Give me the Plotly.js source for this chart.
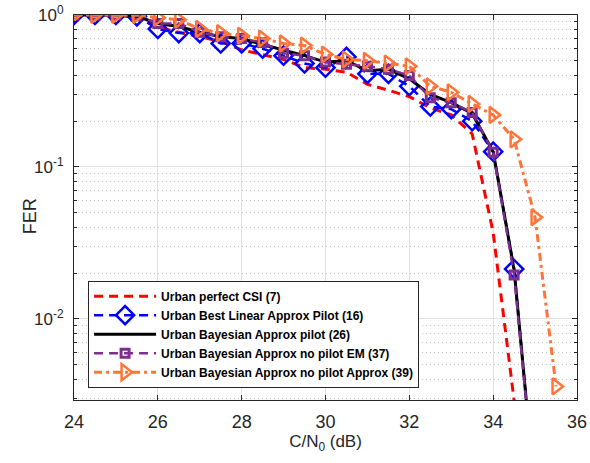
<!DOCTYPE html>
<html>
<head>
<meta charset="utf-8">
<script src="https://cdn.plot.ly/plotly-3.0.1.min.js"></script>
<style>html,body{margin:0;padding:0;background:#fff;}#chart{width:590px;height:463px;}</style>
</head>
<body>
<div id="chart"></div>
<script>
// C/N0 values (dB)
const snr = [24,24.5,25,25.5,26,26.5,27,27.5,28,28.5,29,29.5,30,30.5,31,31.5,32,32.5,33,33.5,34,34.5,35,35.5];

const ferPerfectCSI = [1.0,1.0,1.0,0.96,0.83,0.77,0.72,0.67,0.59,0.55,0.51,0.45,0.44,0.42,0.35,0.32,0.29,0.245,0.22,0.165,0.037,0.0029];
const ferBestLinear = [1.0,1.0,1.0,0.98,0.81,0.76,0.76,0.65,0.65,0.60,0.54,0.48,0.45,0.53,0.41,0.41,0.34,0.25,0.24,0.20,0.126,0.0213,0.0007];
const ferBayesPilot = [1.0,1.0,1.0,0.98,0.88,0.84,0.77,0.72,0.70,0.64,0.59,0.54,0.49,0.50,0.43,0.44,0.38,0.30,0.265,0.225,0.126,0.021,0.0007];
const ferNoPilotEM = [1.0,1.0,1.0,0.99,0.88,0.88,0.77,0.72,0.70,0.66,0.56,0.54,0.49,0.475,0.46,0.44,0.40,0.285,0.265,0.228,0.125,0.0195,0.0007];
const ferNoPilotApprox = [1.0,1.0,1.0,1.0,0.96,0.93,0.81,0.76,0.73,0.70,0.65,0.63,0.55,0.51,0.50,0.48,0.46,0.34,0.31,0.26,0.22,0.152,0.0467,0.0036];

const names = [
  'Urban perfect CSI (7)',
  'Urban Best Linear Approx Pilot (16)',
  'Urban Bayesian Approx pilot (26)',
  'Urban Bayesian Approx no pilot EM (37)',
  'Urban Bayesian Approx no pilot Approx (39)'
];
const yTickVals = [1, 0.1, 0.01];
const yTickText = ['10<sup>0</sup>', '10<sup>-1</sup>', '10<sup>-2</sup>'];
const yTitle = 'FER';
const xTitle = 'C/N<sub>0</sub> (dB)';

const traces = [
  {x: snr.slice(0, ferPerfectCSI.length), y: ferPerfectCSI, name: names[0], mode: 'lines',
   line: {color: '#ff0000', width: 3, dash: '9px,6px'}},
  {x: snr.slice(0, ferBestLinear.length), y: ferBestLinear, name: names[1], mode: 'lines+markers',
   line: {color: '#0000ff', width: 2.5, dash: '9px,6px'},
   marker: {symbol: 'diamond-open', size: 14, color: '#0000ff', line: {width: 2.5, color: '#0000ff'}}},
  {x: snr.slice(0, ferBayesPilot.length), y: ferBayesPilot, name: names[2], mode: 'lines',
   line: {color: '#000000', width: 3}},
  {x: snr.slice(0, ferNoPilotEM.length), y: ferNoPilotEM, name: names[3], mode: 'lines+markers',
   line: {color: '#7e2f8e', width: 2.5, dash: '9px,6px'},
   marker: {symbol: 'square-open', size: 8, color: '#7e2f8e', line: {width: 3, color: '#7e2f8e'}}},
  {x: snr.slice(0, ferNoPilotApprox.length), y: ferNoPilotApprox, name: names[4], mode: 'lines+markers',
   line: {color: '#ff7438', width: 3, dash: '8px,4px,3px,4px'},
   marker: {symbol: 'triangle-right-open', size: 14, color: '#ff7438', line: {width: 2.5, color: '#ff7438'}}}
];

const axisCol = '#262626';
const layout = {
  width: 590, height: 463,
  margin: {l: 74, r: 13, t: 15, b: 63},
  paper_bgcolor: '#ffffff', plot_bgcolor: '#ffffff',
  font: {family: '"Liberation Sans", Arial, sans-serif', size: 17, color: axisCol},
  showlegend: true,
  xaxis: {
    range: [24, 36], dtick: 2, tick0: 24,
    showline: true, linecolor: axisCol, linewidth: 1, mirror: 'allticks',
    ticks: 'inside', ticklen: 5, tickcolor: axisCol, ticklabelstandoff: 5,
    showgrid: true, gridcolor: '#e0e0e0', gridwidth: 1, zeroline: false,
    tickfont: {size: 18, color: axisCol},
    title: {text: xTitle, font: {size: 17, color: axisCol}, standoff: 4}
  },
  yaxis: {
    type: 'log', range: [Math.log10(0.00293), 0],
    tickvals: yTickVals, ticktext: yTickText,
    showline: true, linecolor: axisCol, linewidth: 1, mirror: 'allticks',
    ticks: 'inside', ticklen: 5, tickcolor: axisCol, ticklabelstandoff: 6,
    showgrid: true, gridcolor: '#e0e0e0', gridwidth: 1, zeroline: false,
    tickfont: {size: 17, color: axisCol},
    minor: {dtick: 'D1', ticks: 'inside', ticklen: 3, tickcolor: axisCol,
            showgrid: true, gridcolor: '#c4c4c4', griddash: '1px,3px', gridwidth: 1}
  },
  annotations: [{
    text: yTitle, xref: 'paper', yref: 'paper', x: -0.087, y: 0.478,
    xanchor: 'center', yanchor: 'middle', textangle: -90, showarrow: false,
    font: {size: 18, color: axisCol}
  }],
  legend: {
    x: 0.028, y: 0.31, xanchor: 'left', yanchor: 'top',
    bgcolor: '#ffffff', bordercolor: axisCol, borderwidth: 1,
    font: {family: '"Liberation Sans", Arial, sans-serif', size: 12, weight: 'bold', color: '#000000'},
    itemwidth: 62, tracegroupgap: 0
  }
};

Plotly.newPlot('chart', traces, layout, {displayModeBar: false, staticPlot: true});
</script>
</body>
</html>
